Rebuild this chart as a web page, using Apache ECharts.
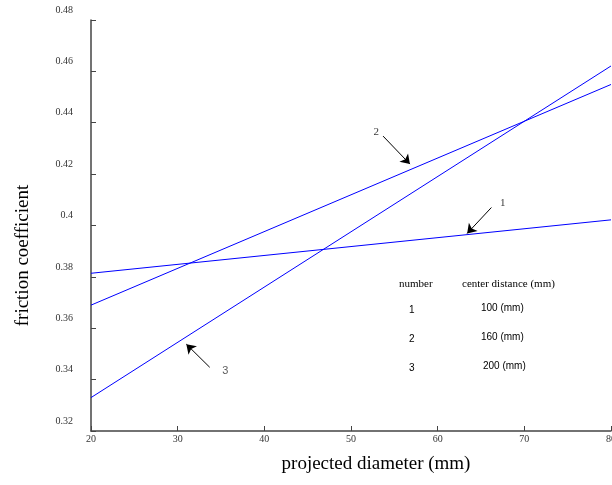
<!DOCTYPE html>
<html>
<head>
<meta charset="utf-8">
<script src="https://cdn.jsdelivr.net/npm/echarts@6/dist/echarts.min.js"></script>
<style>
  html, body { margin: 0; padding: 0; background: #fff; }
  #main { width: 612px; height: 485px; }
</style>
</head>
<body>
<div id="main"></div>
<script>
// data (straight lines, end points only)
var diameters = [20, 80];
var line1 = [0.3814, 0.4022];
var line2 = [0.3690, 0.4549];
var line3 = [0.3330, 0.4621];

// arrows: [tailX, tailY, headX, headY] in data units
var arrows = [
    [66.2, 0.4070, 63.4, 0.3969],
    [53.7, 0.4348, 56.8, 0.4239],
    [33.7, 0.3448, 31.0, 0.3538]
];
// arrow numbers: [x, y, text]
var arrowLabels = [
    [67.5, 0.4088, '1'],
    [52.9, 0.4364, '2'],
    [35.5, 0.3433, '3']
];

// little table at the lower right
var tableHead = ['number', 'center distance (mm)'];
var tableNumbers = ['1', '2', '3'];
var tableDistances = ['100 (mm)', '160 (mm)', '200 (mm)'];

var serif = '"Liberation Serif", "DejaVu Serif", serif';
var sans = '"Liberation Sans", Arial, sans-serif';

function pairs(xs, ys) {
    return xs.map(function (x, i) { return [x, ys[i]]; });
}

function arrowLine(a) {
    return {
        symbol: ['none', 'arrow'],
        symbolSize: 9,
        silent: true,
        label: {show: false},
        lineStyle: {color: '#000', width: 1, type: 'solid'},
        data: [[{coord: [a[0], a[1]]}, {coord: [a[2], a[3]]}]]
    };
}

var myChart = echarts.init(document.getElementById('main'));

var rowY = [311, 340, 369];
var graphics = [
    {type: 'text', left: 399, top: 279, style: {text: tableHead[0], font: '11px ' + serif, fill: '#000'}},
    {type: 'text', left: 462, top: 279, style: {text: tableHead[1], font: '11px ' + serif, fill: '#000'}}
];
tableNumbers.forEach(function (n, i) {
    graphics.push({type: 'text', left: 409, top: rowY[i] - 6, style: {text: n, font: '10px ' + sans, fill: '#000'}});
    graphics.push({type: 'text', left: 481 + (i === 2 ? 2 : 0), top: rowY[i] - 8, style: {text: tableDistances[i], font: '10px ' + sans, fill: '#000'}});
});

var option = {
    animation: false,
    backgroundColor: '#fff',
    grid: {left: 91, right: 1, top: 20, bottom: 54, containLabel: false, outerBoundsMode: 'none'},
    xAxis: {
        type: 'value',
        min: 20, max: 80, interval: 10,
        name: 'projected diameter (mm)',
        nameLocation: 'middle',
        nameGap: 24,
        nameTextStyle: {fontFamily: serif, fontSize: 19, color: '#000', padding: [0, 0, 0, 50]},
        axisLine: {lineStyle: {color: '#444', width: 1.5}},
        axisTick: {inside: true, length: 5, lineStyle: {color: '#444'}},
        axisLabel: {margin: 3, fontFamily: serif, fontSize: 10, color: '#333', hideOverlap: false},
        splitLine: {show: false}
    },
    yAxis: {
        type: 'value',
        min: 0.32, max: 0.48, interval: 0.02,
        name: 'friction coefficient',
        nameLocation: 'middle',
        nameGap: 58,
        nameTextStyle: {fontFamily: serif, fontSize: 19, color: '#000', padding: [0, 60, 0, 0]},
        axisLine: {show: true, lineStyle: {color: '#444', width: 1.5}},
        axisTick: {show: true, inside: true, length: 5, lineStyle: {color: '#444'}},
        axisLabel: {
            margin: 18, fontFamily: serif, fontSize: 10, color: '#333',
            verticalAlign: 'bottom',
            padding: [0, 0, 5, 0],
            formatter: function (v) { return String(Number(v.toFixed(2))); }
        },
        splitLine: {show: false}
    },
    series: [
        {name: '1', type: 'line', data: pairs(diameters, line1), symbol: 'none',
            lineStyle: {color: '#0000ff', width: 1}, markLine: arrowLine(arrows[0])},
        {name: '2', type: 'line', data: pairs(diameters, line2), symbol: 'none',
            lineStyle: {color: '#0000ff', width: 1}, markLine: arrowLine(arrows[1])},
        {name: '3', type: 'line', data: pairs(diameters, line3), symbol: 'none',
            lineStyle: {color: '#0000ff', width: 1}, markLine: arrowLine(arrows[2])},
        {
            type: 'scatter', symbolSize: 0, silent: true,
            data: arrowLabels.map(function (d, i) {
                return {
                    value: [d[0], d[1]],
                    label: {
                        show: true, position: 'inside', formatter: d[2],
                        fontFamily: i === 2 ? sans : serif, fontSize: 11,
                        color: i === 2 ? '#333' : '#000'
                    }
                };
            })
        }
    ],
    graphic: graphics
};

myChart.setOption(option);
</script>
</body>
</html>
